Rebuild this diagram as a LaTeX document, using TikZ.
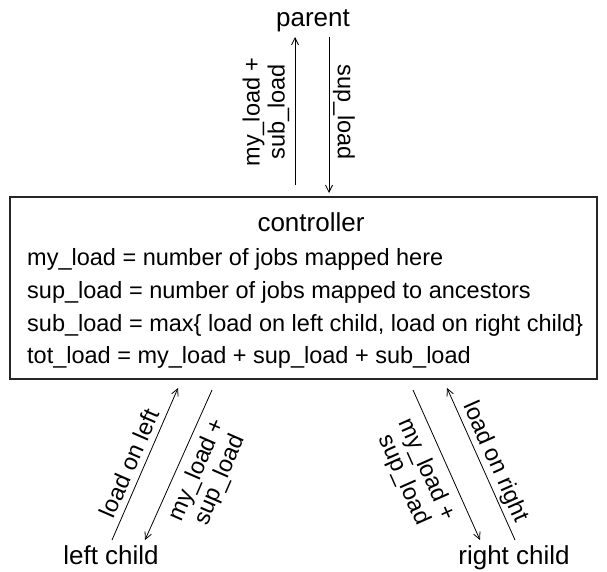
\documentclass[tikz,border=0pt]{standalone}
\usepackage{fontspec}
\setmainfont{Liberation Sans}
\usetikzlibrary{arrows.meta}
\tikzset{
  x=1pt, y=-1pt,
  title/.style={font=\fontsize{26}{28}\selectfont, inner sep=0pt, anchor=base},
  body/.style={font=\fontsize{23.5}{25}\selectfont, inner sep=0pt, anchor=base west},
  lbl/.style={font=\fontsize{23.5}{25}\selectfont, inner sep=0pt, align=center},
  flow/.style={line width=0.8pt, -{Straight Barb[length=7pt,width=7pt]}},
  frame/.style={draw=black!85, line width=1.1pt, inner sep=0pt}
}
\begin{document}
\begin{tikzpicture}
\useasboundingbox (0,0) rectangle (607,572);

% nodes
\node[title] (parent) at (313,27) {parent};
\node[frame, minimum width=587pt, minimum height=182pt] (ctrl) at (303.5,288) {};
\node[title] (ctrltitle) at (311,231) {controller};
\node[body] (l1) at (27,265) {my\_load = number of jobs mapped here};
\node[body] (l2) at (27,298) {sup\_load = number of jobs mapped to ancestors};
\node[body] (l3) at (27,331) {sub\_load = max\{ load on left child, load on right child\}};
\node[body] (l4) at (27,363) {tot\_load = my\_load + sup\_load + sub\_load};
\node[title] (lchild) at (111,564) {left child};
\node[title] (rchild) at (514,564) {right child};

% arrow end points
\coordinate (pu0) at (295,185);
\coordinate (pu1) at (295,37);
\coordinate (pd0) at (329,37);
\coordinate (pd1) at (329,193);
\coordinate (lu0) at (112,540);
\coordinate (lu1) at (178,388);
\coordinate (ld0) at (212,390);
\coordinate (ld1) at (145,540);
\coordinate (rd0) at (413,390);
\coordinate (rd1) at (480,540);
\coordinate (ru0) at (515,540);
\coordinate (ru1) at (447,388);

% connectors
\draw[flow] (pu0) -- (pu1);
\draw[flow] (pd0) -- (pd1);
\draw[flow] (lu0) -- (lu1);
\draw[flow] (ld0) -- (ld1);
\draw[flow] (rd0) -- (rd1);
\draw[flow] (ru0) -- (ru1);

% connector labels
\node[lbl, rotate=90] (tpu) at (266,112) {my\_load +\\sub\_load};
\node[lbl, rotate=-90] (tpd) at (344,112) {sup\_load};
\node[lbl, rotate=66.5] (tlu) at (129,463) {load on left};
\node[lbl, rotate=66.5] (tld) at (209,475) {my\_load +\\sup\_load};
\node[lbl, rotate=-66] (trd) at (415,475) {my\_load +\\sup\_load};
\node[lbl, rotate=-66] (tru) at (495,462) {load on right};
\end{tikzpicture}
\end{document}
